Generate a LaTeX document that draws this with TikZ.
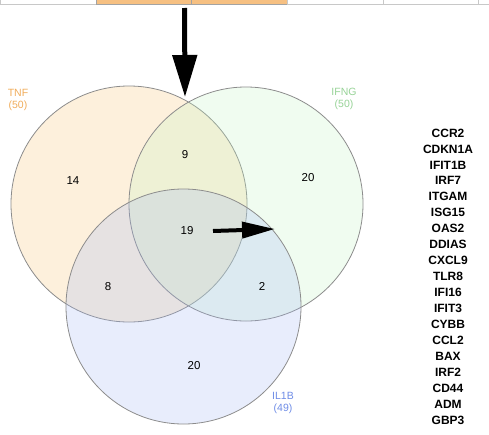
\documentclass[tikz,border=0pt]{standalone}
\usepackage{fontspec}
\setmainfont{Liberation Sans}
\usetikzlibrary{arrows.meta}
\definecolor{tnfc}{RGB}{247,195,115}
\definecolor{ifngc}{RGB}{195,243,195}
\definecolor{ilc}{RGB}{163,183,243}
\definecolor{tnft}{RGB}{240,172,90}
\definecolor{ifngt}{RGB}{150,210,150}
\definecolor{ilt}{RGB}{110,140,230}
\definecolor{edge}{RGB}{140,140,140}
\definecolor{cellor}{RGB}{246,192,130}
\definecolor{cellline}{RGB}{200,200,200}
\tikzset{
  venn/.style={circle, draw=edge, line width=0.8pt, fill opacity=0.25, draw opacity=1, inner sep=0pt},
  num/.style={font=\fontsize{11.5}{13}\selectfont, inner sep=0pt},
  setlab/.style={font=\fontsize{10.5}{12.5}\selectfont, align=center, inner sep=0pt},
  genes/.style={font=\fontsize{12}{15.94}\selectfont\bfseries, align=center, inner sep=0pt},
  bigarrow/.style={line width=5pt, -{Triangle[length=42pt,width=24pt]}},
  smallarrow/.style={line width=4pt, -{Triangle[length=33pt,width=16pt]}},
  cell/.style={draw=cellline, line width=0.8pt},
  ocell/.style={draw=edge!80, fill=cellor, line width=0.8pt}
}
\begin{document}
\begin{tikzpicture}[x=1pt,y=-1pt]
\useasboundingbox (0,0) rectangle (489,434);
% cut-off table row at the top
\path[cell] (0,-3) rectangle (96,4.5);
\path[ocell] (96,-3) rectangle (191,4.5);
\path[ocell] (191,-3) rectangle (287,4.5);
\path[cell] (287,-3) rectangle (383,4.5);
\path[cell] (383,-3) rectangle (478,4.5);
\path[cell] (478,-3) rectangle (492,4.5);
% Venn circles
\node[venn, fill=tnfc, minimum size=236pt] (tnf) at (129,204) {};
\node[venn, fill=ifngc, minimum size=234pt] (ifng) at (246,204) {};
\node[venn, fill=ilc, minimum size=235pt] (il1b) at (183.5,306.5) {};
% set labels
\node[setlab, text=tnft] (ltnf) at (18,100) {TNF\\(50)};
\node[setlab, text=ifngt] (lifng) at (344,99) {IFNG\\(50)};
\node[setlab, text=ilt] (lil) at (283,403) {IL1B\\(49)};
% counts
\node[num] (n14) at (73,181) {14};
\node[num] (n9) at (185,155) {9};
\node[num] (n20a) at (308,178) {20};
\node[num] (n19) at (187,231) {19};
\node[num] (n8) at (108,287) {8};
\node[num] (n2) at (262,286) {2};
\node[num] (n20b) at (194,366) {20};
% gene list
\node[genes] (glist) at (448,276.5) {CCR2\\CDKN1A\\IFIT1B\\IRF7\\ITGAM\\ISG15\\OAS2\\DDIAS\\CXCL9\\TLR8\\IFI16\\IFIT3\\CYBB\\CCL2\\BAX\\IRF2\\CD44\\ADM\\GBP3};
% arrows
\coordinate (a1s) at (184.5,8);
\coordinate (a1e) at (185,97);
\coordinate (a2s) at (213,231);
\coordinate (a2e) at (275,229);
\draw[bigarrow] (a1s) -- (a1e);
\draw[smallarrow] (a2s) -- (a2e);
\end{tikzpicture}
\end{document}
